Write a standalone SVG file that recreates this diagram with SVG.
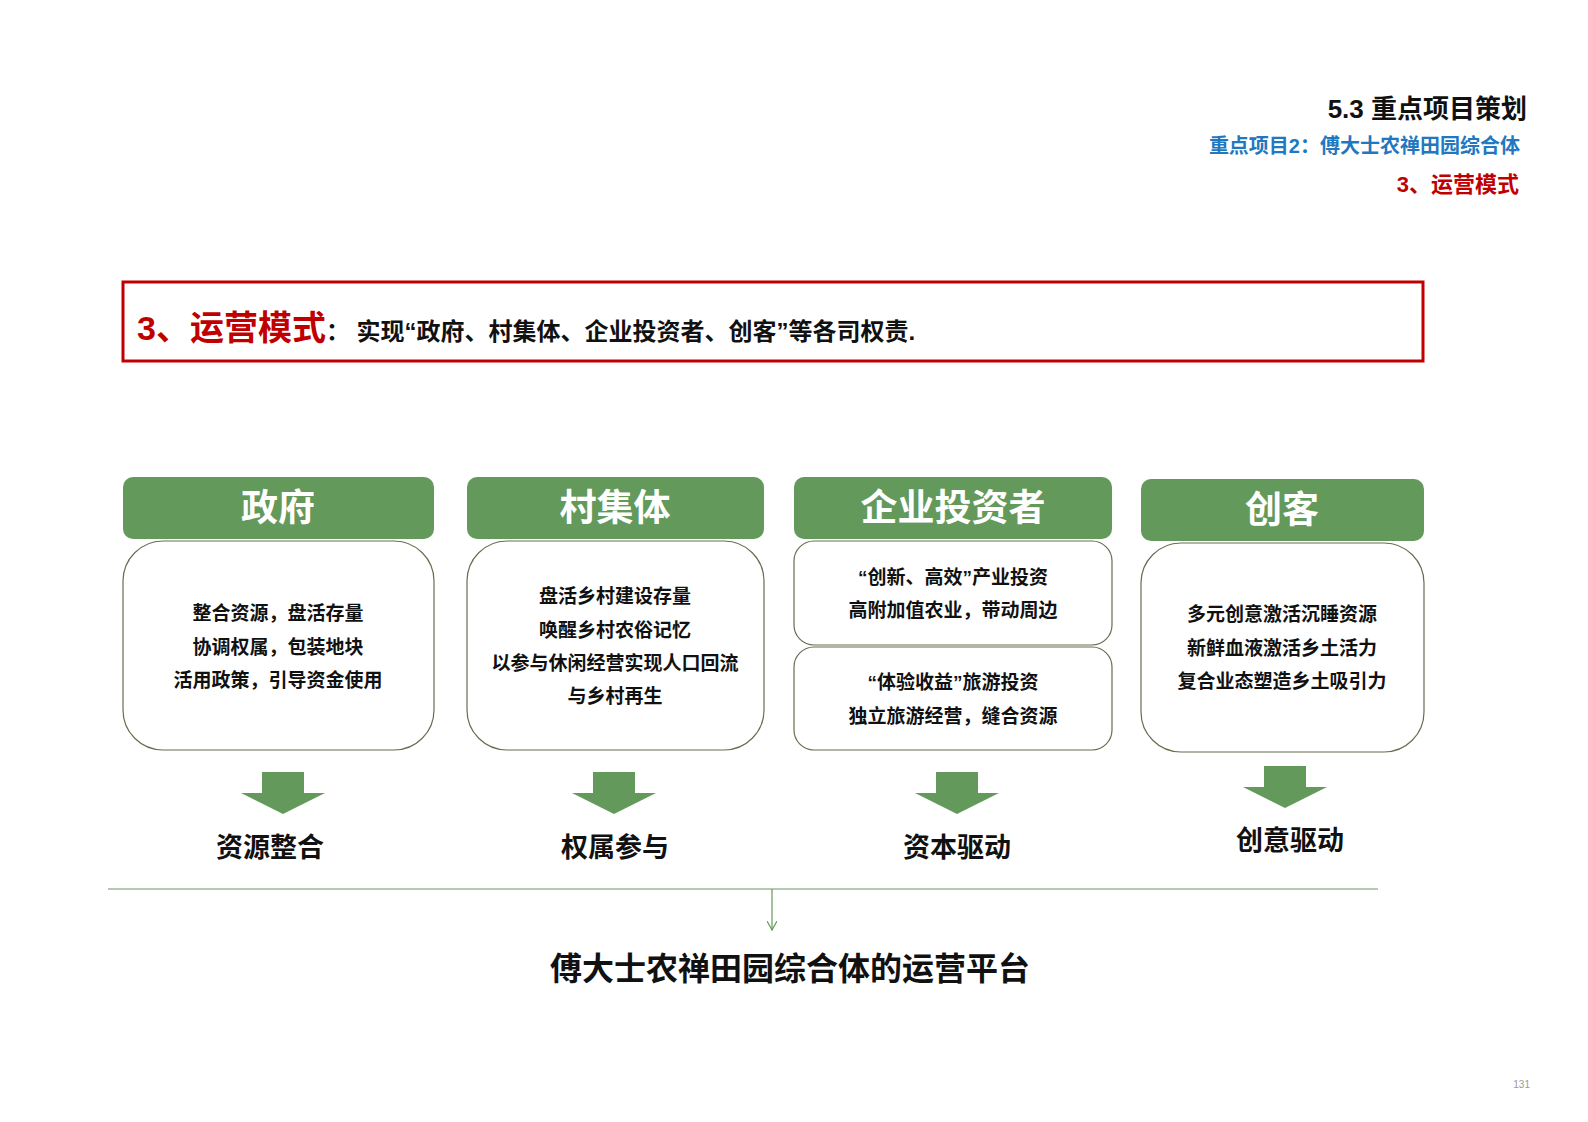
<svg xmlns="http://www.w3.org/2000/svg" width="1588" height="1122" viewBox="0 0 1588 1122">
<defs>
<style>
text{font-family:"Liberation Sans","Noto Sans CJK SC",sans-serif;font-weight:bold}
.hd{fill:#63995A}
.bd{fill:#fff;stroke:#6B6B50;stroke-width:1.2}
.ht{fill:#fff;font-size:37px;text-anchor:middle}
.bt{fill:#111;font-size:19px;text-anchor:middle}
.lb{fill:#111;font-size:27px;text-anchor:middle}
.ar{fill:#63995A}
</style>
<marker id="m" markerWidth="10" markerHeight="10" refX="9" refY="5" orient="auto" markerUnits="userSpaceOnUse"><path d="M0,0 L9,5 L0,10" fill="none" stroke="#63995A" stroke-width="1.2"/></marker>
</defs>
<rect width="1588" height="1122" fill="#fff"/>
<g id="header">
<text x="1527" y="118" font-size="26" text-anchor="end" fill="#111">5.3 重点项目策划</text>
<text x="1520" y="153" font-size="20" text-anchor="end" fill="#1F78C0">重点项目2：傅大士农禅田园综合体</text>
<text x="1519" y="192" font-size="22" text-anchor="end" fill="#C00000">3、运营模式</text>
</g>
<g id="title">
<rect x="123" y="282" width="1300" height="79" fill="none" stroke="#C00000" stroke-width="3"/>
<text x="137" y="340" font-size="34" fill="#C00000">3、运营模式<tspan fill="#111" font-size="24">： 实现“政府、村集体、企业投资者、创客”等各司权责.</tspan></text>
</g>
<g id="n1">
<rect class="hd" x="123" y="477" width="311" height="62" rx="10"/>
<text class="ht" x="278" y="521">政府</text>
<rect class="bd" x="123" y="541" width="311" height="209" rx="40"/>
<text class="bt" x="278" y="620">整合资源，盘活存量</text>
<text class="bt" x="278" y="654">协调权属，包装地块</text>
<text class="bt" x="278" y="687">活用政策，引导资金使用</text>
</g>
<g id="n2">
<rect class="hd" x="467" y="477" width="297" height="62" rx="10"/>
<text class="ht" x="615" y="521">村集体</text>
<rect class="bd" x="467" y="541" width="297" height="209" rx="40"/>
<text class="bt" x="615" y="603">盘活乡村建设存量</text>
<text class="bt" x="615" y="637">唤醒乡村农俗记忆</text>
<text class="bt" x="615" y="670">以参与休闲经营实现人口回流</text>
<text class="bt" x="615" y="703">与乡村再生</text>
</g>
<g id="n3">
<rect class="hd" x="794" y="477" width="318" height="62" rx="10"/>
<text class="ht" x="953" y="521">企业投资者</text>
<rect class="bd" x="794" y="541" width="318" height="104" rx="20"/>
<text class="bt" x="953" y="584">“创新、高效”产业投资</text>
<text class="bt" x="953" y="617">高附加值农业，带动周边</text>
<rect class="bd" x="794" y="647" width="318" height="103" rx="20"/>
<text class="bt" x="953" y="689">“体验收益”旅游投资</text>
<text class="bt" x="953" y="723">独立旅游经营，缝合资源</text>
</g>
<g id="n4">
<rect class="hd" x="1141" y="479" width="283" height="62" rx="10"/>
<text class="ht" x="1282" y="523">创客</text>
<rect class="bd" x="1141" y="543" width="283" height="209" rx="40"/>
<text class="bt" x="1282" y="621">多元创意激活沉睡资源</text>
<text class="bt" x="1282" y="655">新鲜血液激活乡土活力</text>
<text class="bt" x="1282" y="688">复合业态塑造乡土吸引力</text>
</g>
<g id="arrows">
<path class="ar" d="M262,772 H304 V793 H325 L283,814 L241,793 H262 Z"/>
<path class="ar" d="M593,772 H635 V793 H656 L614,814 L572,793 H593 Z"/>
<path class="ar" d="M936,772 H978 V793 H999 L957,814 L915,793 H936 Z"/>
<path class="ar" d="M1264,766 H1306 V787 H1327 L1285,808 L1243,787 H1264 Z"/>
</g>
<g id="labels">
<text class="lb" x="270" y="857">资源整合</text>
<text class="lb" x="615" y="857">权属参与</text>
<text class="lb" x="957" y="857">资本驱动</text>
<text class="lb" x="1290" y="850">创意驱动</text>
</g>
<g id="connectors">
<line x1="108" y1="889" x2="1378" y2="889" stroke="#63995A" stroke-width="1.2"/>
<line x1="772" y1="889" x2="772" y2="930" stroke="#63995A" stroke-width="1.2" marker-end="url(#m)"/>
</g>
<g id="platform">
<text x="790" y="980" font-size="32" text-anchor="middle" fill="#111">傅大士农禅田园综合体的运营平台</text>
</g>
<text x="1530" y="1088" font-size="10" text-anchor="end" fill="#999" style="font-weight:normal">131</text>
</svg>
